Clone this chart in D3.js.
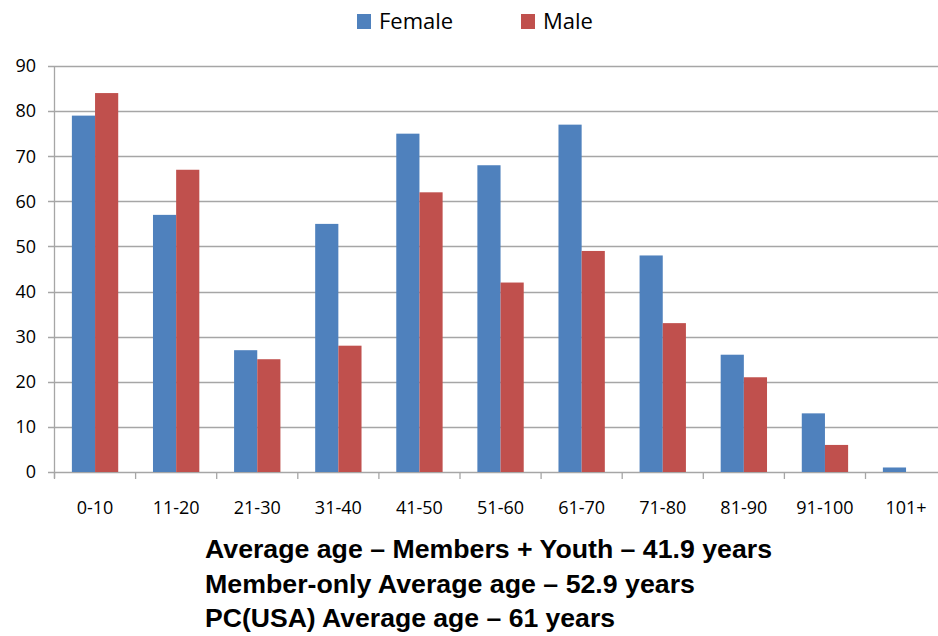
<!DOCTYPE html>
<html>
<head>
<meta charset="utf-8">
<script src="https://cdn.jsdelivr.net/npm/d3@7"></script>
<style>
  body { margin: 0; background: #fff; }
  svg { display: block; }
</style>
</head>
<body>
<script>
const ageGroups = ["0-10", "11-20", "21-30", "31-40", "41-50", "51-60", "61-70", "71-80", "81-90", "91-100", "101+"]
const seriesNames = ["Female", "Male"]
const femaleValues = [79, 57, 27, 55, 75, 68, 77, 48, 26, 13, 1]
const maleValues = [84, 67, 25, 28, 62, 42, 49, 33, 21, 6, 0]
const yTicks = [0, 10, 20, 30, 40, 50, 60, 70, 80, 90]
const notes = [
    "Average age \u2013 Members + Youth \u2013 41.9 years",
    "Member-only Average age \u2013 52.9 years",
    "PC(USA) Average age \u2013 61 years"
]

const width = 938
const height = 636
const colors = { Female: "#4f81bd", Male: "#c0504d" }
const gridColor = "#a6a6a6"

const rows = ageGroups.map((g, i) => ({ group: g, Female: femaleValues[i], Male: maleValues[i] }))

const svg = d3.select("body").append("svg")
    .attr("width", width)
    .attr("height", height)
    .attr("font-family", "'Open Sans', 'Noto Sans', sans-serif")

// plot runs past the right edge, like the original crop
const x = d3.scaleBand()
    .domain(ageGroups)
    .range([54.5, 54.5 + 11 * 81.1])

const bw = x.bandwidth()
const xInner = d3.scaleBand()
    .domain(seriesNames)
    .range([bw * 0.75 / 3.5, bw * 2.75 / 3.5])

const y = d3.scaleLinear()
    .domain([0, 90])
    .range([472, 66])

// gridlines
svg.append("g")
    .selectAll("line")
    .data(yTicks)
    .join("line")
    .attr("x1", 48)
    .attr("x2", width)
    .attr("y1", d => Math.round(y(d)) + 0.5)
    .attr("y2", d => Math.round(y(d)) + 0.5)
    .attr("stroke", gridColor)
    .attr("stroke-width", 1.3)

// y axis labels
svg.append("g")
    .attr("font-size", 18)
    .attr("text-anchor", "end")
    .attr("fill", "#000")
    .selectAll("text")
    .data(yTicks)
    .join("text")
    .attr("x", 36)
    .attr("y", d => y(d))
    .attr("dy", "0.35em")
    .text(d => d)

// bars
const grp = svg.append("g")
    .selectAll("g")
    .data(rows)
    .join("g")
    .attr("transform", d => `translate(${x(d.group)},0)`)

grp.selectAll("rect")
    .data(d => seriesNames.map(s => ({ key: s, value: d[s] })))
    .join("rect")
    .attr("x", d => xInner(d.key))
    .attr("width", xInner.bandwidth())
    .attr("y", d => y(d.value))
    .attr("height", d => y(0) - y(d.value))
    .attr("fill", d => colors[d.key])

// y axis line
svg.append("line")
    .attr("x1", 54.5).attr("x2", 54.5)
    .attr("y1", y(90)).attr("y2", y(0) + 6)
    .attr("stroke", gridColor)
    .attr("stroke-width", 1.3)

// x axis ticks at band edges
const edges = ageGroups.map(g => x(g)).concat([x.range()[1]])
svg.append("g")
    .selectAll("line")
    .data(edges)
    .join("line")
    .attr("x1", d => d).attr("x2", d => d)
    .attr("y1", y(0)).attr("y2", y(0) + 7)
    .attr("stroke", gridColor)
    .attr("stroke-width", 1.3)

// x labels
svg.append("g")
    .attr("font-size", 18)
    .attr("text-anchor", "middle")
    .selectAll("text")
    .data(ageGroups)
    .join("text")
    .attr("x", d => x(d) + bw / 2)
    .attr("y", 508)
    .attr("dy", "0.35em")
    .text(d => d)

// legend
const legendPos = [357, 521]
const legend = svg.append("g")
    .selectAll("g")
    .data(seriesNames)
    .join("g")
    .attr("transform", (d, i) => `translate(${legendPos[i]},0)`)

legend.append("rect")
    .attr("x", 0).attr("y", 14)
    .attr("width", 14).attr("height", 15)
    .attr("fill", d => colors[d])

legend.append("text")
    .attr("x", 22)
    .attr("y", 21.5)
    .attr("dy", "0.35em")
    .attr("font-size", 22)
    .text(d => d)

// notes under chart
const noteWidths = [567, 490, 410]
svg.append("g")
    .attr("font-family", "'Liberation Sans', Arial, sans-serif")
    .attr("font-weight", "bold")
    .attr("font-size", 25)
    .selectAll("text")
    .data(notes)
    .join("text")
    .attr("x", 205)
    .attr("y", (d, i) => 558 + i * 34.5)
    .attr("textLength", (d, i) => noteWidths[i])
    .attr("lengthAdjust", "spacingAndGlyphs")
    .text(d => d)
</script>
</body>
</html>
